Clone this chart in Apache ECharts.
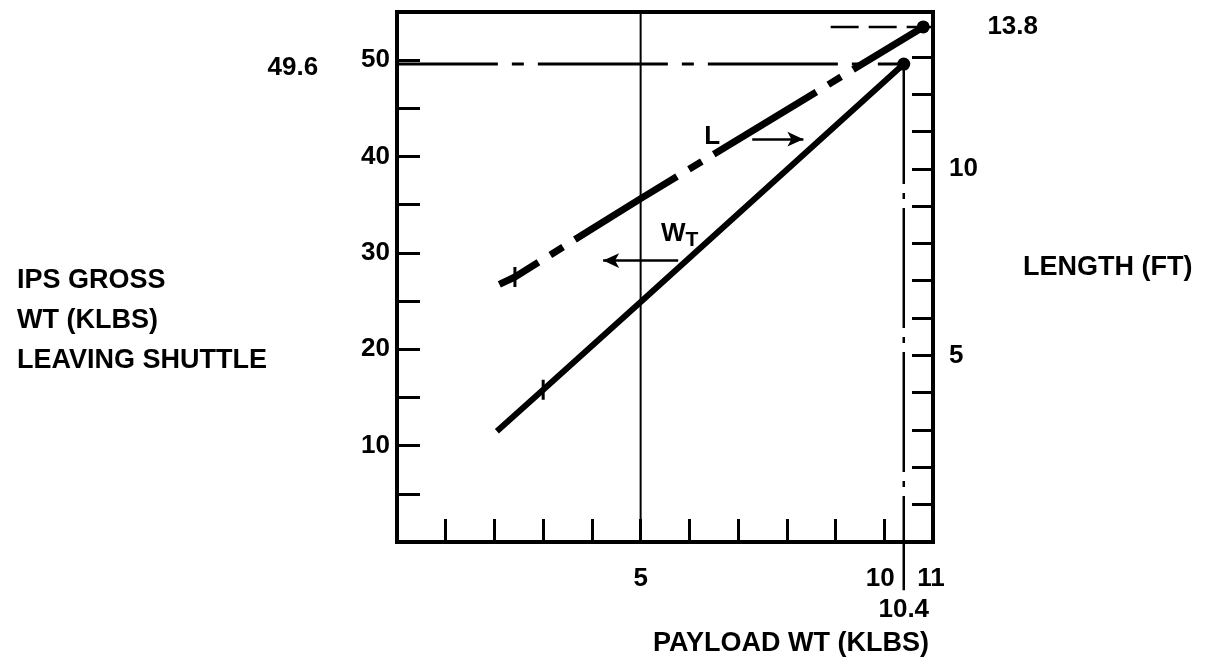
<!DOCTYPE html>
<html><head><meta charset="utf-8">
<script src="https://cdn.jsdelivr.net/npm/echarts@6/dist/echarts.min.js"></script>
<style>html,body{margin:0;padding:0;background:#fff}#c{width:1208px;height:664px}</style>
</head><body><div id="c"></div>
<script>
// ---- data ----
const payloadWt = [2.05, 3, 5, 10.4];          // PAYLOAD WT (KLBS) for W_T line
const grossWt   = [11.5, 15.8, 24.9, 49.6];    // IPS GROSS WT (KLBS)
const lenPayload = [2.1, 2.42, 5, 10.8];       // PAYLOAD WT for L line
const lengthFt   = [6.9, 7.1, 9.2, 13.8];      // LENGTH (FT)
const xLabelTicks = [5, 10, 11];
const leftLabelTicks = [10, 20, 30, 40, 50];
const rightTickValues = [1, 2, 3, 4, 5, 6, 7, 8, 9, 10, 11, 12, 13];
const rightLabelTicks = [5, 10];
const refGross = 49.6, refGrossX = [-1.31, 2.07, 10.4];
const refLen = 13.8, refLenX = [8.9, 10.8, 11.87];
const refPayload = 10.4, refPayloadW = [49.6, -5.0, -7.0];
const midPayload = 5;
const lArrowX = [7.29, 8.34], lArrowW = 41.8, lLabel = [6.47, 42.0];
const wArrowX = [5.77, 4.23], wArrowW = 29.2, wLabel = [5.8, 32.0];

const FONT = '"Liberation Sans", Arial, sans-serif';
const chart = echarts.init(document.getElementById('c'), null, {renderer: 'canvas'});
const black = '#000';
const tickLabel = {color: black, fontFamily: FONT, fontWeight: 'bold', fontSize: 26};

function lineItems(xs, ys) {
  const last = xs.length - 1;
  return xs.map((x, i) => ({
    value: [x, ys[i]],
    symbol: i === last ? 'circle' : (i === 1 ? 'rect' : 'none'),
    symbolSize: i === last ? 13 : (i === 1 ? [3, 20] : 0)
  }));
}

chart.setOption({
  animation: false,
  backgroundColor: '#fff',
  title: [
    {text: 'IPS GROSS\nWT (KLBS)\nLEAVING SHUTTLE', left: 12, top: 256,
     textStyle: {color: black, fontFamily: FONT, fontWeight: 'bold', fontSize: 27, lineHeight: 40}},
    {text: 'LENGTH (FT)', left: 1018, top: 243,
     textStyle: {color: black, fontFamily: FONT, fontWeight: 'bold', fontSize: 27, lineHeight: 40}},
    {text: 'PAYLOAD WT (KLBS)', left: 648, top: 619,
     textStyle: {color: black, fontFamily: FONT, fontWeight: 'bold', fontSize: 27, lineHeight: 40}}
  ],
  grid: {left: 397, right: 275, top: 12, bottom: 122, show: true,
         borderColor: black, borderWidth: 4, backgroundColor: 'transparent'},
  xAxis: {
    type: 'value', min: 0, max: 11, interval: 1,
    axisLine: {lineStyle: {color: black, width: 4}},
    axisTick: {inside: true, length: 23, lineStyle: {color: black, width: 3}},
    splitLine: {show: false},
    axisLabel: Object.assign({}, tickLabel, {
      margin: 24,
      showMinLabel: true, showMaxLabel: true,
      formatter: v => {
        if (!xLabelTicks.includes(v)) return '';
        if (v === 10) return '{a|' + v + '}';
        if (v === 11) return '{b|' + v + '}';
        return String(v);
      },
      rich: {
        a: {color: black, fontFamily: FONT, fontWeight: 'bold', fontSize: 26, padding: [0, 8, 0, 0]},
        b: {color: black, fontFamily: FONT, fontWeight: 'bold', fontSize: 26, padding: [0, 4, 0, 0]}
      }
    })
  },
  yAxis: [
    {type: 'value', min: 0, max: 55, interval: 5, position: 'left',
     axisLine: {show: true, lineStyle: {color: black, width: 4}},
     axisTick: {show: true, inside: true, length: 23, lineStyle: {color: black, width: 3}},
     splitLine: {show: false},
     axisLabel: Object.assign({}, tickLabel, {margin: 7,
       formatter: v => leftLabelTicks.includes(v) ? String(v) : ''})},
    {type: 'value', min: 0, max: 14.2, interval: 1, position: 'right',
     axisLine: {show: true, lineStyle: {color: black, width: 4}},
     axisTick: {show: true, inside: true, length: 21, customValues: rightTickValues,
                lineStyle: {color: black, width: 3}},
     splitLine: {show: false},
     axisLabel: Object.assign({}, tickLabel, {margin: 16, customValues: rightLabelTicks,
       formatter: v => rightLabelTicks.includes(v) ? String(v) : ''})}
  ],
  series: [
    { // vertical reference at payload 5, plus the direction arrows
      type: 'line', xAxisIndex: 0, yAxisIndex: 0, symbol: 'none', silent: true,
      data: [[midPayload, 0], [midPayload, 55]],
      lineStyle: {color: black, width: 2},
      markLine: {
        silent: true, symbol: ['none', 'arrow'], symbolSize: [11, 16],
        label: {show: false},
        lineStyle: {color: black, width: 2.5, type: 'solid'},
        data: [
          [{coord: [lArrowX[0], lArrowW]}, {coord: [lArrowX[1], lArrowW]}],
          [{coord: [wArrowX[0], wArrowW]}, {coord: [wArrowX[1], wArrowW]}]
        ]
      }
    },
    { // W_T line (left axis)
      name: 'WT', type: 'line', xAxisIndex: 0, yAxisIndex: 0, silent: true,
      data: lineItems(payloadWt, grossWt),
      itemStyle: {color: black},
      lineStyle: {color: black, width: 6}
    },
    { // L line (right axis), long-dash/short-dash
      name: 'L', type: 'line', xAxisIndex: 0, yAxisIndex: 1, silent: true,
      data: lineItems(lenPayload, lengthFt),
      itemStyle: {color: black},
      lineStyle: {color: black, width: 7, type: [120, 14, 15, 14], dashOffset: 75}
    },
    { // 49.6 reference, solid part (extends left of the axis)
      type: 'line', yAxisIndex: 0, symbol: 'none', clip: false, silent: true,
      data: [[refGrossX[0], refGross], [refGrossX[1], refGross]],
      lineStyle: {color: black, width: 3}
    },
    { // 49.6 reference, dash-dot part
      type: 'line', yAxisIndex: 0, symbol: 'none', clip: false, silent: true,
      data: [[refGrossX[1], refGross], [refGrossX[2], refGross]],
      lineStyle: {color: black, width: 3, type: [130, 14, 12, 14], dashOffset: 130}
    },
    { // 10.4 vertical reference
      type: 'line', yAxisIndex: 0, symbol: 'none', clip: false, silent: true,
      data: [[refPayload, refPayloadW[0]], [refPayload, refPayloadW[1]]],
      lineStyle: {color: black, width: 2.5, type: [120, 9, 6, 9]}
    },
    { // 13.8 reference dashed inside plot
      type: 'line', yAxisIndex: 1, symbol: 'none', clip: false, silent: true,
      data: [[refLenX[0], refLen], [refLenX[1], refLen]],
      lineStyle: {color: black, width: 2.5, type: [28, 10]}
    },
    { // 13.8 reference solid outside plot
      type: 'line', yAxisIndex: 1, symbol: 'none', clip: false, silent: true,
      data: [[refLenX[1], refLen], [refLenX[2], refLen]],
      lineStyle: {color: black, width: 2.5}
    },
    { // labels on left axis scale
      type: 'scatter', yAxisIndex: 0, clip: false, silent: true,
      symbol: 'circle', symbolSize: 0, itemStyle: {color: black, opacity: 1},
      label: {show: true, color: black, fontFamily: FONT, fontWeight: 'bold', fontSize: 26},
      data: [
        {value: [refGrossX[0], refGross], label: {position: 'left', distance: 15, formatter: String(refGross), offset: [0, 4]}},
        {value: [refPayload, refPayloadW[2]], label: {position: 'inside', formatter: String(refPayload)}},
        {value: lLabel, label: {position: 'inside', formatter: 'L'}},
        {value: wLabel, label: {position: 'inside', formatter: '{w|W}{t|T}',
          rich: {w: {color: black, fontFamily: FONT, fontWeight: 'bold', fontSize: 26},
                 t: {color: black, fontFamily: FONT, fontWeight: 'bold', fontSize: 21, padding: [14, 0, 0, 0]}}}}
      ]
    },
    { // label on right axis scale
      type: 'scatter', yAxisIndex: 1, clip: false, silent: true,
      symbol: 'circle', symbolSize: 0, itemStyle: {color: black, opacity: 1},
      label: {show: true, color: black, fontFamily: FONT, fontWeight: 'bold', fontSize: 26},
      data: [
        {value: [refLenX[2], refLen], label: {position: 'right', distance: 12, formatter: String(refLen)}}
      ]
    }
  ]
});
</script>
</body></html>
